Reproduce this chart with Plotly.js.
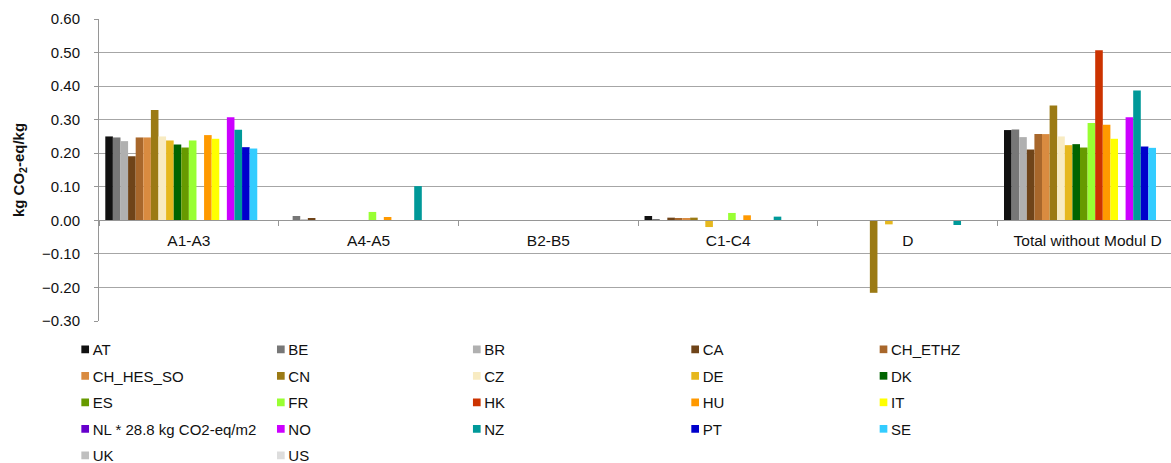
<!DOCTYPE html>
<html>
<head>
<meta charset="utf-8">
<script src="https://cdn.plot.ly/plotly-3.0.1.min.js"></script>
<style>
html,body{margin:0;padding:0;background:#fff;}
#chart{width:1171px;height:463px;}
#chart .legendpoints path{transform-box:view-box;transform-origin:0 0;transform:translate(32.5px,0px) scale(0.64);}
</style>
</head>
<body>
<div id="chart"></div>
<script>
// Categories (life-cycle modules)
const categories = ['A1-A3', 'A4-A5', 'B2-B5', 'C1-C4', 'D', 'Total without Modul D'];

// Series names (legend labels)
const seriesNames = ['AT', 'BE', 'BR', 'CA', 'CH_ETHZ', 'CH_HES_SO', 'CN', 'CZ', 'DE', 'DK', 'ES', 'FR', 'HK', 'HU', 'IT',
  'NL * 28.8 kg CO2-eq/m2', 'NO', 'NZ', 'PT', 'SE', 'UK', 'US'];

// Values per series, order: A1-A3, A4-A5, B2-B5, C1-C4, D, Total without Modul D
const AT        = [0.250, null,  null, 0.013, null,   0.269];
const BE        = [0.247, 0.013, null, 0.004, null,   0.271];
const BR        = [0.236, 0.003, null, null,  null,   0.248];
const CA        = [0.191, 0.007, null, 0.008, null,   0.211];
const CH_ETHZ   = [0.247, null,  null, 0.007, null,   0.257];
const CH_HES_SO = [0.247, null,  null, 0.007, null,   0.257];
const CN        = [0.329, null,  null, 0.008, -0.216, 0.342];
const CZ        = [0.250, null,  null, null,  null,   0.250];
const DE        = [0.238, null,  null, -0.020, -0.012, 0.224];
const DK        = [0.226, null,  null, null,  null,   0.227];
const ES        = [0.217, null,  null, null,  null,   0.217];
const FR        = [0.238, 0.025, null, 0.022, null,   0.290];
const HK        = [null,  null,  null, null,  null,   0.507];
const HU        = [0.254, 0.010, null, 0.015, null,   0.285];
const IT        = [0.243, null,  null, null,  null,   0.243];
const NL        = [null,  null,  null, null,  null,   null];
const NO        = [0.307, null,  null, null,  null,   0.307];
const NZ        = [0.270, 0.102, null, 0.011, -0.014, 0.387];
const PT        = [0.218, null,  null, null,  null,   0.220];
const SE        = [0.214, null,  null, null,  null,   0.216];
const UK        = [null,  null,  null, null,  null,   null];
const US        = [null,  null,  null, null,  null,   null];

const seriesValues = [AT, BE, BR, CA, CH_ETHZ, CH_HES_SO, CN, CZ, DE, DK, ES, FR, HK, HU, IT, NL, NO, NZ, PT, SE, UK, US];

const seriesColors = ['#111111', '#777777', '#b0b0b0', '#6f4419', '#a8672b', '#d98b40', '#9b7a14', '#f8ebc2', '#e6b81e',
  '#006400', '#679a00', '#99ff33', '#cc3300', '#ff9900', '#ffff00', '#6600cc', '#cc00ff', '#009999', '#0000cc',
  '#33ccff', '#bfbfbf', '#dddddd'];

// Legend column (1..5) of each series, as laid out in the reference
const legendColumn = [1, 2, 3, 4, 5, 1, 2, 3, 4, 5, 1, 2, 3, 4, 5, 1, 2, 3, 4, 5, 1, 2];

const FONT = 'Liberation Sans, Arial, sans-serif';

const traces = seriesNames.map((name, i) => ({
  type: 'bar',
  name: name,
  x: categories,
  y: seriesValues[i],
  marker: {color: seriesColors[i], line: {width: 0}},
  legend: legendColumn[i] === 1 ? 'legend' : 'legend' + legendColumn[i],
  legendgroup: 'g' + i,
  hoverinfo: 'name+y'
}));

const legendXs = [-0.0432, 0.1393, 0.3221, 0.5258, 0.7015];
function legendCfg(x) {
  return {
    x: x, xanchor: 'left', y: -0.04, yanchor: 'top',
    orientation: 'v', tracegroupgap: 4,
    bgcolor: 'rgba(0,0,0,0)', borderwidth: 0,
    font: {family: FONT, size: 15, color: '#111'}
  };
}

const layout = {
  width: 1171, height: 463,
  margin: {l: 99, r: 0, t: 19, b: 142, autoexpand: false},
  paper_bgcolor: '#ffffff', plot_bgcolor: '#ffffff',
  barmode: 'group', bargap: 0.07, bargroupgap: 0,
  showlegend: true,
  font: {family: FONT, size: 15, color: '#111'},
  xaxis: {
    type: 'category',
    range: [-0.5, 5.464],
    anchor: 'free', position: 1/3,
    showline: true, linecolor: '#969696', linewidth: 1,
    showgrid: false, zeroline: false,
    ticks: 'outside', tickson: 'boundaries', ticklen: 5, tickcolor: '#969696',
    ticklabelstandoff: 6,
    tickfont: {family: FONT, size: 15.5, color: '#111'}
  },
  yaxis: {
    range: [-0.3, 0.6], dtick: 0.1, tick0: 0, tickformat: '.2f',
    showline: true, linecolor: '#969696', linewidth: 1,
    showgrid: true, gridcolor: '#a6a6a6', gridwidth: 1,
    zeroline: false,
    ticks: 'outside', ticklen: 4, tickcolor: '#969696',
    ticklabelstandoff: 11,
    tickfont: {family: FONT, size: 15, color: '#111'},
    title: {text: '<b>kg CO<sub>2</sub>-eq/kg</b>', font: {family: FONT, size: 15, color: '#111'}, standoff: 13}
  },
  legend: legendCfg(legendXs[0]),
  legend2: legendCfg(legendXs[1]),
  legend3: legendCfg(legendXs[2]),
  legend4: legendCfg(legendXs[3]),
  legend5: legendCfg(legendXs[4])
};

Plotly.newPlot('chart', traces, layout, {displayModeBar: false, staticPlot: true});
</script>
</body>
</html>
